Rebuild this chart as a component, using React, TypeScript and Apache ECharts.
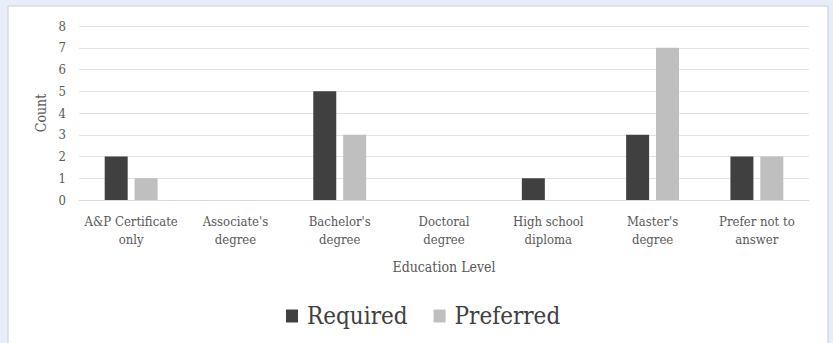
import React, { useEffect, useRef } from "react";
import * as echarts from "echarts";

const categories = [
  "A&P Certificate\nonly",
  "Associate's\ndegree",
  "Bachelor's\ndegree",
  "Doctoral\ndegree",
  "High school\ndiploma",
  "Master's\ndegree",
  "Prefer not to\nanswer",
];
const required = [2, 0, 5, 0, 1, 3, 2];
const preferred = [1, 0, 3, 0, 0, 7, 2];
const yTicks = [0, 1, 2, 3, 4, 5, 6, 7, 8];

const FONT = "'DejaVu Serif Condensed', 'DejaVu Serif', serif";

export default function App() {
  const ref = useRef<HTMLDivElement>(null);
  useEffect(() => {
    if (!ref.current) return;
    const chart = echarts.init(ref.current, undefined, { renderer: "svg" });
    chart.setOption({
      animation: false,
      backgroundColor: "#e9ecf9",
      textStyle: { fontFamily: FONT },
      graphic: [
        {
          type: "rect",
          z: -10,
          shape: { x: 8, y: 6, width: 820, height: 340 },
          style: { fill: "#ffffff", stroke: "#c9ccd8", lineWidth: 1 },
          silent: true,
        },
      ],
      grid: { left: 79, right: 24, top: 26, bottom: 143, containLabel: false },
      legend: {
        data: ["Required", "Preferred"],
        left: 286,
        top: 304,
        padding: 0,
        itemWidth: 12,
        itemHeight: 13,
        itemGap: 26,
        icon: "rect",
        textStyle: { fontFamily: FONT, fontSize: 24, color: "#404040", padding: [0, 0, 0, 4] },
      },
      xAxis: {
        type: "category",
        data: categories,
        name: "Education Level",
        nameLocation: "middle",
        nameGap: 60,
        nameTextStyle: { fontFamily: FONT, fontSize: 14, color: "#595959" },
        axisLine: { lineStyle: { color: "#d9d9d9" } },
        axisTick: { show: false },
        axisLabel: {
          interval: 0,
          margin: 12,
          fontFamily: FONT,
          fontSize: 13,
          color: "#595959",
          lineHeight: 18,
        },
      },
      yAxis: {
        type: "value",
        min: 0,
        max: 8,
        interval: 1,
        name: "Count",
        nameLocation: "middle",
        nameGap: 29,
        nameTextStyle: { fontFamily: FONT, fontSize: 14, color: "#595959" },
        axisLine: { show: false },
        axisTick: { show: false },
        axisLabel: {
          margin: 13,
          fontFamily: FONT,
          fontSize: 13,
          color: "#595959",
          formatter: (v: number) => (yTicks.includes(v) ? String(v) : ""),
        },
        splitLine: { lineStyle: { color: "#e3e3e3", width: 1 } },
      },
      series: [
        {
          name: "Required",
          type: "bar",
          data: required,
          barWidth: 23,
          barGap: "30%",
          itemStyle: { color: "#404040" },
        },
        {
          name: "Preferred",
          type: "bar",
          data: preferred,
          barWidth: 23,
          itemStyle: { color: "#bfbfbf" },
        },
      ],
    });
    return () => chart.dispose();
  }, []);
  return (
    <div
      ref={ref}
      style={{ position: "fixed", left: 0, top: 0, width: 833, height: 343 }}
    />
  );
}
